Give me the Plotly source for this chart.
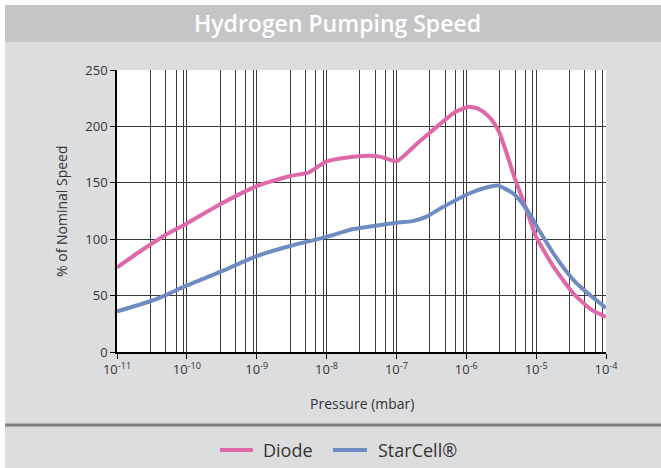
import plotly.graph_objects as go

# Pressure (mbar) and pumping speed (% of nominal) for each pump type
diode_p = [1e-11, 2e-11, 5e-11, 1e-10, 3e-10, 1e-9, 3e-9, 5.5e-9, 7e-9, 1e-8, 2e-8, 4e-8,
           6e-8, 1e-7, 2e-7, 4.2e-7, 7e-7, 1.1e-6, 1.5e-6, 2e-6, 2.5e-6, 3e-6, 3.7e-6,
           4.7e-6, 7e-6, 1e-5, 1.8e-5, 3.4e-5, 6e-5, 1e-4]
diode_s = [75, 88, 104, 114, 131, 147, 156, 159, 163, 169, 172.5, 174,
           173, 169, 185, 202, 213, 217.5, 215.5, 210, 203, 194, 178,
           158, 129, 102, 75, 52, 38, 31]

starcell_p = [1e-11, 3e-11, 5e-11, 1e-10, 3e-10, 1e-9, 3e-9, 1e-8, 2.4e-8, 5e-8,
              1e-7, 1.7e-7, 2.7e-7, 4.2e-7, 1.1e-6, 2e-6, 2.8e-6, 4.7e-6, 7.4e-6,
              1.1e-5, 1.9e-5, 3.4e-5, 6e-5, 1e-4]
starcell_s = [36, 45, 50.5, 59, 71, 85, 94, 102, 109, 112,
              114.5, 116, 120, 127, 140.5, 146, 147.5, 140.5, 126,
              108, 84.5, 64, 50, 39]

decades = [1e-11, 1e-10, 1e-9, 1e-8, 1e-7, 1e-6, 1e-5, 1e-4]
decade_labels = ["10<sup>-11</sup>", "10<sup>-10</sup>", "10<sup>-9</sup>", "10<sup>-8</sup>",
                 "10<sup>-7</sup>", "10<sup>-6</sup>", "10<sup>-5</sup>", "10<sup>-4</sup>"]
minor_grid = [m * d for d in decades[:-1] for m in (3, 5, 7, 9)]
y_ticks = [0, 50, 100, 150, 200, 250]

PINK = "#DF68A9"
BLUE = "#6F8CC2"
PANEL = "#DCDDDF"
BAR = "#C4C5C7"
GRID = "#3a3a3a"
TXT = "#333333"
FONT = "Open Sans"

W, H = 661, 468
L, R, T, B = 117, 606, 70, 352  # plot area in pixels


def px_x(p):
    return (p - L) / (R - L)


def px_y(p):
    return (B - p) / (B - T)


fig = go.Figure()
fig.add_trace(go.Scatter(x=diode_p, y=diode_s, name="Diode", mode="lines",
                         line=dict(color=PINK, width=4, shape="spline", smoothing=0.5)))
fig.add_trace(go.Scatter(x=starcell_p, y=starcell_s, name="StarCell®", mode="lines",
                         line=dict(color=BLUE, width=4, shape="spline", smoothing=0.6)))

shapes = [
    # grey panel behind everything
    dict(type="rect", xref="paper", yref="paper", layer="below",
         x0=px_x(5), x1=px_x(W + 2), y0=px_y(H + 2), y1=px_y(5),
         fillcolor=PANEL, line=dict(width=0)),
    # title bar
    dict(type="rect", xref="paper", yref="paper", layer="below",
         x0=px_x(5), x1=px_x(W + 2), y0=px_y(42), y1=px_y(5),
         fillcolor=BAR, line=dict(width=0)),
    # white plotting area
    dict(type="rect", xref="paper", yref="paper", layer="below",
         x0=0, x1=1, y0=0, y1=1, fillcolor="white", line=dict(width=0)),
    # separator above the legend
    dict(type="line", xref="paper", yref="paper",
         x0=px_x(5), x1=px_x(W + 2), y0=px_y(425), y1=px_y(425),
         line=dict(color="#808080", width=3)),
    # legend keys
    dict(type="line", xref="paper", yref="paper",
         x0=px_x(220), x1=px_x(253), y0=px_y(450), y1=px_y(450),
         line=dict(color=PINK, width=4)),
    dict(type="line", xref="paper", yref="paper",
         x0=px_x(333), x1=px_x(367), y0=px_y(450), y1=px_y(450),
         line=dict(color=BLUE, width=4)),
]

annotations = [
    dict(text="Hydrogen Pumping Speed", xref="paper", yref="paper",
         x=px_x(337), y=px_y(23), xanchor="center", yanchor="middle", showarrow=False,
         font=dict(family=FONT, size=23, color="white", weight=600)),
    dict(text="% of Nominal Speed", xref="paper", yref="paper",
         x=px_x(61), y=0.5, xanchor="center", yanchor="middle", showarrow=False,
         textangle=-90, font=dict(family=FONT, size=14, color=TXT)),
    dict(text="Pressure (mbar)", xref="paper", yref="paper",
         x=px_x(362), y=px_y(403), xanchor="center", yanchor="middle", showarrow=False,
         font=dict(family=FONT, size=14, color=TXT)),
    dict(text="Diode", xref="paper", yref="paper",
         x=px_x(261), y=px_y(450), xanchor="left", yanchor="middle", showarrow=False,
         font=dict(family=FONT, size=18, color=TXT)),
    dict(text="StarCell®", xref="paper", yref="paper",
         x=px_x(376), y=px_y(450), xanchor="left", yanchor="middle", showarrow=False,
         font=dict(family=FONT, size=18, color=TXT)),
]

fig.update_layout(
    width=W, height=H,
    margin=dict(l=L, r=W - R, t=T, b=H - B),
    paper_bgcolor="white",
    plot_bgcolor="rgba(0,0,0,0)",
    shapes=shapes,
    annotations=annotations,
    showlegend=False,
    font=dict(family=FONT, color=TXT),
    xaxis=dict(type="log", range=[-11, -4], tickvals=decades, ticktext=decade_labels,
               ticks="outside", ticklen=5, tickcolor="black", tickwidth=1,
               showgrid=True, gridcolor=GRID, gridwidth=1,
               showline=True, linecolor="black", linewidth=1.5,
               tickfont=dict(family=FONT, size=13, color=TXT),
               minor=dict(tickvals=minor_grid, showgrid=True, gridcolor=GRID,
                          gridwidth=1, ticklen=0),
               zeroline=False, fixedrange=True),
    yaxis=dict(range=[0, 250], tickvals=y_ticks,
               ticks="outside", ticklen=5, tickcolor="black", tickwidth=1,
               showgrid=True, gridcolor=GRID, gridwidth=1,
               showline=True, linecolor="black", linewidth=1.5,
               tickfont=dict(family=FONT, size=13, color=TXT),
               zeroline=False, fixedrange=True),
)

fig.write_html("out.html")
